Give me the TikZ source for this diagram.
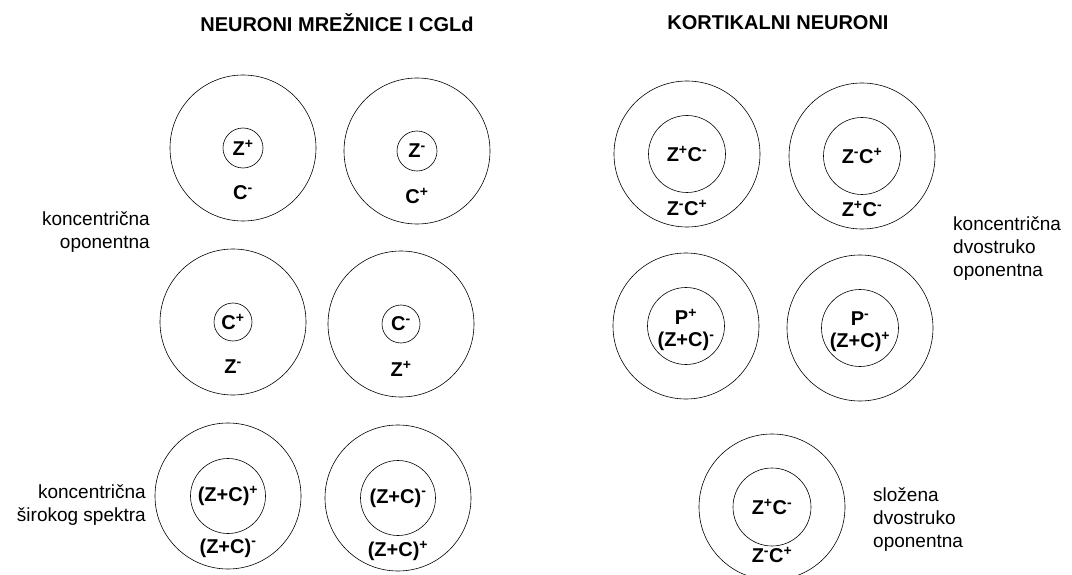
\documentclass[tikz,border=0pt]{standalone}
\usepackage{fontspec}
\setmainfont{Liberation Sans}
\usetikzlibrary{positioning}

\newcommand{\Pos}{\textsuperscript{+}}
\newcommand{\Neg}{\textsuperscript{-}}

\begin{document}
\begin{tikzpicture}[x=1pt, y=-1pt,
    field/.style={circle, draw, line width=0.6pt, minimum size=146pt, inner sep=0pt},
    centre/.style={circle, draw, line width=0.6pt, inner sep=0pt},
    sign/.style={font=\fontsize{20}{22}\selectfont\bfseries, inner sep=0pt, align=center},
    group/.style={font=\fontsize{19}{23}\selectfont, inner sep=0pt},
    heading/.style={font=\fontsize{20}{24}\selectfont\bfseries, inner sep=0pt}]
  \useasboundingbox (0,0) rectangle (1072,575);

  % headings
  \node[heading] (retina) at (337,23) {NEURONI MREŽNICE I CGLd};
  \node[heading] (cortex) at (778,23) {KORTIKALNI NEURONI};

  % retina and CGLd: concentric opponent
  \node[field] (f1) at (243,148) {};
  \node[centre, minimum size=40pt] (f1c) at (f1.center) {};
  \node[sign] (f1i) at (f1.center) {Z\Pos};
  \node[sign] (f1s) at (243,193) {C\Neg};

  \node[field] (f2) at (417,151) {};
  \node[centre, minimum size=40pt] (f2c) at (f2.center) {};
  \node[sign] (f2i) at (f2.center) {Z\Neg};
  \node[sign] (f2s) at (417,196) {C\Pos};

  \node[field] (f3) at (233,322) {};
  \node[centre, minimum size=38pt] (f3c) at (f3.center) {};
  \node[sign] (f3i) at (f3.center) {C\Pos};
  \node[sign] (f3s) at (233,367) {Z\Neg};

  \node[field] (f4) at (401,324) {};
  \node[centre, minimum size=38pt] (f4c) at (f4.center) {};
  \node[sign] (f4i) at (f4.center) {C\Neg};
  \node[sign] (f4s) at (401,369) {Z\Pos};

  % retina and CGLd: broad band
  \node[field] (f5) at (228,496) {};
  \node[centre, minimum size=75pt] (f5c) at (f5.center) {};
  \node[sign] (f5i) at (f5.center) {(Z+C)\Pos};
  \node[sign] (f5s) at (228,548) {(Z+C)\Neg};

  \node[field] (f6) at (398,498) {};
  \node[centre, minimum size=75pt] (f6c) at (f6.center) {};
  \node[sign] (f6i) at (f6.center) {(Z+C)\Neg};
  \node[sign] (f6s) at (398,551) {(Z+C)\Pos};

  % cortex: concentric double opponent
  \node[field] (f7) at (687,154) {};
  \node[centre, minimum size=77pt] (f7c) at (f7.center) {};
  \node[sign] (f7i) at (f7.center) {Z\Pos C\Neg};
  \node[sign] (f7s) at (687,208) {Z\Neg C\Pos};

  \node[field] (f8) at (862,156) {};
  \node[centre, minimum size=77pt] (f8c) at (f8.center) {};
  \node[sign] (f8i) at (f8.center) {Z\Neg C\Pos};
  \node[sign] (f8s) at (862,209) {Z\Pos C\Neg};

  \node[field] (f9) at (686,326) {};
  \node[centre, minimum size=77pt] (f9c) at (f9.center) {};
  \node[sign] (f9i) at ([yshift=-4pt]f9.center) {P\Pos\\(Z+C)\Neg};

  \node[field] (f10) at (860,328) {};
  \node[centre, minimum size=77pt] (f10c) at (f10.center) {};
  \node[sign] (f10i) at ([yshift=-4pt]f10.center) {P\Neg\\(Z+C)\Pos};

  % cortex: complex double opponent
  \node[field] (f11) at (772,507) {};
  \node[centre, minimum size=78pt] (f11c) at (f11.center) {};
  \node[sign] (f11i) at (f11.center) {Z\Pos C\Neg};
  \node[sign] (f11s) at (772,555) {Z\Neg C\Pos};

  % group labels
  \node[group, anchor=east, align=right] (g1) at (150,232) {koncentrična\\oponentna};
  \node[group, anchor=east, align=right] (g2) at (146,505) {koncentrična\\širokog spektra};
  \node[group, anchor=west, align=left] (g3) at (953,249) {koncentrična\\dvostruko\\oponentna};
  \node[group, anchor=west, align=left] (g4) at (873,520) {složena\\dvostruko\\oponentna};
\end{tikzpicture}
\end{document}
